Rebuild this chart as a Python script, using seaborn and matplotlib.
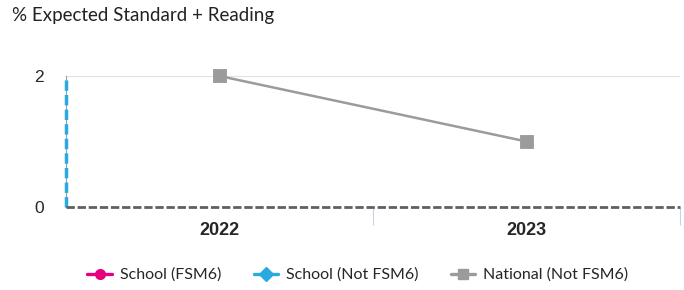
import numpy as np
import pandas as pd
import matplotlib.pyplot as plt
import seaborn as sns
from matplotlib.lines import Line2D

years = ["2022", "2023"]
national_not_fsm6 = [2, 1]
series_names = ["School (FSM6)", "School (Not FSM6)", "National (Not FSM6)"]
series_colors = ["#E6007E", "#29ABE2", "#9B9B9B"]
series_markers = ["o", "D", "s"]
y_ticks = [0, 2]

sns.set_theme(style="white")
plt.rcParams['font.family'] = ['Lato', 'DejaVu Sans']

fig = plt.figure(figsize=(6.84, 2.90), dpi=100)
ax = fig.add_axes([66 / 684, 83 / 290, 614 / 684, 131 / 290])

df = pd.DataFrame({"Year": years, "Value": national_not_fsm6})
sns.pointplot(data=df, x="Year", y="Value", ax=ax, color=series_colors[2],
              markers="s", markersize=8.5, linewidth=1.8, errorbar=None)
for art in ax.lines + ax.collections:
    art.set_clip_on(False)

ax.set_xlim(-0.5, 1.5)
ax.set_ylim(0, 2)
ax.set_yticks(y_ticks)
ax.set_yticklabels([str(v) for v in y_ticks], fontsize=12.5,
                   family=['Liberation Sans', 'DejaVu Sans'])
ax.set_xticks(range(len(years)))
ax.set_xticklabels(years, fontsize=13, fontweight='bold',
                   family=['Liberation Sans', 'DejaVu Sans'])
ax.set_xticks([0.5, 1.5], minor=True)
ax.tick_params(axis='x', which='major', bottom=False, length=0, pad=11)
ax.tick_params(axis='x', which='minor', bottom=True, length=13, color='#C8D2E0', width=0.8)
ax.tick_params(axis='y', length=0, pad=16)
ax.set_xlabel("")
ax.set_ylabel("")
ax.axhline(2, color='#E2E2E2', lw=0.8, zorder=0)

for side in ["top", "right"]:
    ax.spines[side].set_visible(False)
ax.spines["left"].set_color('#A0A0A0')
ax.spines["left"].set_linewidth(0.8)
ax.spines["bottom"].set_visible(False)
ax.plot([-0.5, -0.5], [0, 2], color=series_colors[1], lw=2.5, ls=(0, (3, 1.2)),
        clip_on=False, zorder=5)
ax.plot([-0.5, 1.5], [0, 0], color='#606060', lw=2.0, ls=(0, (3, 1)),
        clip_on=False, zorder=5)

fig.text(12 / 684, 1 - 16 / 290, "% Expected Standard + Reading", fontsize=13.5,
         va='center', ha='left', color='#222222')

handles = [Line2D([0], [0], color=c, marker=m, lw=2.4, markersize=7)
           for c, m in zip(series_colors, series_markers)]
fig.legend(handles, series_names, loc='center', bbox_to_anchor=(358 / 684, 1 - 275 / 290),
           ncol=3, frameon=False, fontsize=11.5, handlelength=1.55, columnspacing=2.0,
           handletextpad=0.5, borderpad=0)

fig.savefig("out.png", dpi=100)
